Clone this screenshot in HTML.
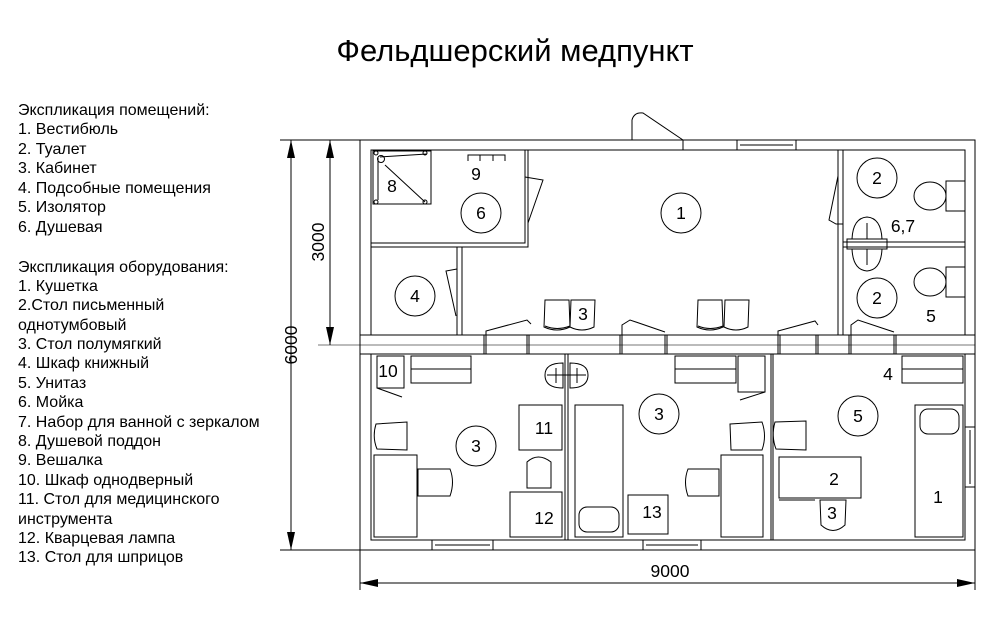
<!DOCTYPE html>
<html><head><meta charset="utf-8"><style>
html,body{margin:0;padding:0;background:#fff;}
svg{display:block;font-family:"Liberation Sans",sans-serif;}
.t{font-size:16px;fill:#000;}
.n{font-size:17.5px;fill:#000;text-anchor:middle;}
</style></head><body>
<svg width="1000" height="617" viewBox="0 0 1000 617" xmlns="http://www.w3.org/2000/svg">
<text x="515" y="61" font-size="31" text-anchor="middle" font-family="Liberation Sans, sans-serif">Фельдшерский медпункт</text>
<g class="t">
<text x="18" y="115">Экспликация помещений:</text>
<text x="18" y="134">1. Вестибюль</text>
<text x="18" y="154">2. Туалет</text>
<text x="18" y="173">3. Кабинет</text>
<text x="18" y="193">4. Подсобные помещения</text>
<text x="18" y="212">5. Изолятор</text>
<text x="18" y="232">6. Душевая</text>
<text x="18" y="272">Экспликация оборудования:</text>
<text x="18" y="291">1. Кушетка</text>
<text x="18" y="310">2.Стол письменный</text>
<text x="18" y="330">однотумбовый</text>
<text x="18" y="349">3. Стол полумягкий</text>
<text x="18" y="368">4. Шкаф книжный</text>
<text x="18" y="388">5. Унитаз</text>
<text x="18" y="407">6. Мойка</text>
<text x="18" y="427">7. Набор для ванной с зеркалом</text>
<text x="18" y="446">8. Душевой поддон</text>
<text x="18" y="465">9. Вешалка</text>
<text x="18" y="485">10. Шкаф однодверный</text>
<text x="18" y="504">11. Стол для медицинского</text>
<text x="18" y="524">инструмента</text>
<text x="18" y="543">12. Кварцевая лампа</text>
<text x="18" y="562">13. Стол для шприцов</text>
</g>
<g fill="none" stroke="#000" stroke-width="1">
<line x1="280" y1="140" x2="360" y2="140"/>
<line x1="280" y1="550" x2="370" y2="550"/>
<line x1="291" y1="140" x2="291" y2="550"/>
<line x1="318" y1="345" x2="975" y2="345" stroke="#777"/>
<line x1="330" y1="140" x2="330" y2="345"/>
<line x1="360" y1="550" x2="360" y2="590"/>
<line x1="975" y1="550" x2="975" y2="590"/>
<line x1="360" y1="583" x2="975" y2="583"/>
<rect x="360" y="140" width="615" height="410"/>
<rect x="371" y="150" width="594" height="185"/>
<rect x="371" y="354" width="594" height="186"/>
<line x1="360" y1="335" x2="371" y2="335"/>
<line x1="360" y1="354" x2="371" y2="354"/>
<line x1="965" y1="335" x2="975" y2="335"/>
<line x1="965" y1="354" x2="975" y2="354"/>
<rect x="371" y="150" width="154" height="93"/>
<polyline points="371,247 528,247 528,150"/>
<line x1="457" y1="247" x2="457" y2="335"/><line x1="462" y1="247" x2="462" y2="335"/>
<line x1="838" y1="150" x2="838" y2="335"/><line x1="843" y1="150" x2="843" y2="335"/>
<line x1="843" y1="242" x2="965" y2="242"/><line x1="843" y1="247" x2="965" y2="247"/>
<line x1="565" y1="354" x2="565" y2="540"/><line x1="568" y1="354" x2="568" y2="540"/>
<line x1="771" y1="354" x2="771" y2="540"/><line x1="773" y1="354" x2="773" y2="540"/>
<rect x="737" y="140" width="59" height="10"/><line x1="740" y1="145" x2="793" y2="145"/>
<line x1="683" y1="140" x2="683" y2="150"/>
<path d="M632,140 L632,120 Q634,112 643,113 L683,140"/>
<rect x="432" y="540" width="61" height="10"/><line x1="435" y1="545" x2="490" y2="545"/>
<rect x="643" y="540" width="58" height="10"/><line x1="646" y1="545" x2="698" y2="545"/>
<rect x="965" y="427" width="10" height="60"/><line x1="970" y1="430" x2="970" y2="484"/>
<g>
<line x1="484" y1="335" x2="484" y2="354"/><line x1="486" y1="335" x2="486" y2="354"/>
<line x1="527" y1="335" x2="527" y2="354"/><line x1="529" y1="335" x2="529" y2="354"/>
<line x1="620" y1="335" x2="620" y2="354"/><line x1="622" y1="335" x2="622" y2="354"/>
<line x1="665" y1="335" x2="665" y2="354"/><line x1="667" y1="335" x2="667" y2="354"/>
<line x1="778" y1="335" x2="778" y2="354"/><line x1="780" y1="335" x2="780" y2="354"/>
<line x1="816" y1="335" x2="816" y2="354"/><line x1="818" y1="335" x2="818" y2="354"/>
<line x1="849" y1="335" x2="849" y2="354"/><line x1="851" y1="335" x2="851" y2="354"/>
<line x1="894" y1="335" x2="894" y2="354"/><line x1="896" y1="335" x2="896" y2="354"/>
</g>
<path d="M486,335 L486,331 L527,320 L531,324"/>
<path d="M622,335 L622,325 L630,320 L665,332"/>
<path d="M778,335 L778,331 L815,321 L818,325"/>
<path d="M851,335 L851,325 L858,320 L894,332"/>
<path d="M525,177 L543,180 L528,223"/>
<path d="M457,269 L446,271 L456,316"/>
<path d="M838,176 L829,220 L836,224 L843,224"/>
<rect x="373" y="151" width="58" height="53"/>
<line x1="380" y1="157" x2="427" y2="154"/><line x1="378" y1="158" x2="378" y2="200"/>
<line x1="385" y1="165" x2="425" y2="202"/>
<circle cx="381" cy="159" r="3.5"/>
<circle cx="376" cy="153" r="2"/><circle cx="425" cy="153" r="2"/><circle cx="376" cy="202" r="2"/><circle cx="425" cy="202" r="2"/>
<polyline points="468,161 468,155 505,155 505,161"/>
<line x1="480" y1="155" x2="480" y2="161"/><line x1="493" y1="155" x2="493" y2="161"/>
<circle cx="681" cy="213" r="20"/>
<circle cx="481" cy="213" r="20"/>
<circle cx="415" cy="296" r="20"/>
<circle cx="877" cy="178" r="20"/>
<circle cx="877" cy="298" r="20"/>
<circle cx="476" cy="446" r="20"/>
<circle cx="659" cy="414" r="20"/>
<circle cx="858" cy="416" r="20"/>
<rect x="946" y="181" width="19" height="30"/><ellipse cx="930" cy="196" rx="16" ry="14"/>
<rect x="946" y="267" width="19" height="30"/><ellipse cx="930" cy="282" rx="16" ry="14"/>
<rect x="847" y="239" width="40" height="10"/>
<path d="M852,239 Q853,218 867,217 Q881,218 882,239"/>
<path d="M852,249 Q853,270 867,271 Q881,270 882,249"/>
<line x1="867" y1="223" x2="867" y2="239"/><line x1="867" y1="249" x2="867" y2="265"/>
<path d="M545,300 L569,300 L570,327 Q557,333 544,327 Z"/><path d="M545,326 Q557,331 570,326"/>
<path d="M571,300 L595,300 L594,327 Q582,333 570,327 Z"/>
<path d="M698,300 L722,300 L723,327 Q710,333 697,327 Z"/><path d="M698,326 Q710,331 723,326"/>
<path d="M725,300 L749,300 L748,327 Q736,333 724,327 Z"/>
<rect x="377" y="356" width="27" height="32"/><line x1="377" y1="388" x2="402" y2="397"/>
<rect x="411" y="356" width="60" height="27"/><line x1="411" y1="369" x2="471" y2="369"/>
<rect x="374" y="455" width="43" height="82"/><line x1="417" y1="478" x2="417" y2="537"/>
<path d="M376,424 L407,422 L407,450 L377,449 Q372,437 376,424 Z"/>
<path d="M418,469 L450,469 Q455,482 450,496 L418,496 Z"/>
<rect x="519" y="405" width="43" height="45"/>
<path d="M527,488 L527,462 Q538,452 551,462 L551,488 Z"/>
<rect x="510" y="492" width="52" height="45"/>
<path d="M563,363 Q545,363 545,375 Q545,388 563,388 Z"/>
<path d="M570,363 Q588,363 588,375 Q588,388 570,388 Z"/>
<line x1="547" y1="375" x2="586" y2="375"/><line x1="556" y1="368" x2="556" y2="383"/><line x1="577" y1="368" x2="577" y2="383"/>
<rect x="575" y="405" width="48" height="132"/>
<rect x="579" y="507" width="40" height="25" rx="8"/>
<rect x="628" y="495" width="40" height="39"/>
<rect x="675" y="356" width="61" height="27"/><line x1="675" y1="369" x2="736" y2="369"/>
<rect x="738" y="356" width="27" height="36"/><line x1="765" y1="392" x2="740" y2="400"/>
<path d="M730,424 L762,422 Q767,436 762,450 L731,450 Z"/>
<path d="M719,469 L688,469 Q683,482 688,496 L719,496 Z"/>
<rect x="721" y="455" width="42" height="82"/>
<rect x="902" y="356" width="61" height="27"/><line x1="902" y1="369" x2="963" y2="369"/>
<path d="M775,422 L806,421 L806,450 L776,449 Q771,436 775,422 Z"/>
<rect x="779" y="457" width="82" height="41"/><line x1="779" y1="500" x2="815" y2="500"/>
<path d="M820,500 L846,500 L845,525 Q833,536 821,525 Z"/>
<rect x="915" y="405" width="48" height="132"/>
<rect x="920" y="409" width="39" height="25" rx="8"/>
</g>
<g fill="#000">
<path d="M291,140 L287,158 L295,158 Z"/><path d="M291,550 L287,532 L295,532 Z"/>
<path d="M330,140 L326,158 L334,158 Z"/><path d="M330,345 L326,327 L334,327 Z"/>
<path d="M360,583 L378,579 L378,587 Z"/><path d="M975,583 L957,579 L957,587 Z"/>
</g>
<g class="n">
<text x="670" y="577">9000</text>
<text x="0" y="0" transform="translate(297,345) rotate(-90)" text-anchor="middle">6000</text>
<text x="0" y="0" transform="translate(324,242) rotate(-90)" text-anchor="middle">3000</text>
<text x="681" y="219">1</text><text x="481" y="219">6</text><text x="415" y="302">4</text>
<text x="877" y="184">2</text><text x="877" y="304">2</text>
<text x="476" y="452">3</text><text x="659" y="420">3</text><text x="858" y="422">5</text>
<text x="476" y="180">9</text><text x="392" y="192">8</text><text x="583" y="320">3</text>
<text x="903" y="232">6,7</text><text x="931" y="322">5</text>
<text x="388" y="377">10</text><text x="544" y="434">11</text><text x="544" y="524">12</text>
<text x="652" y="518">13</text><text x="888" y="380">4</text><text x="834" y="485">2</text>
<text x="832" y="519">3</text><text x="938" y="503">1</text>
</g>
</svg>
</body></html>
